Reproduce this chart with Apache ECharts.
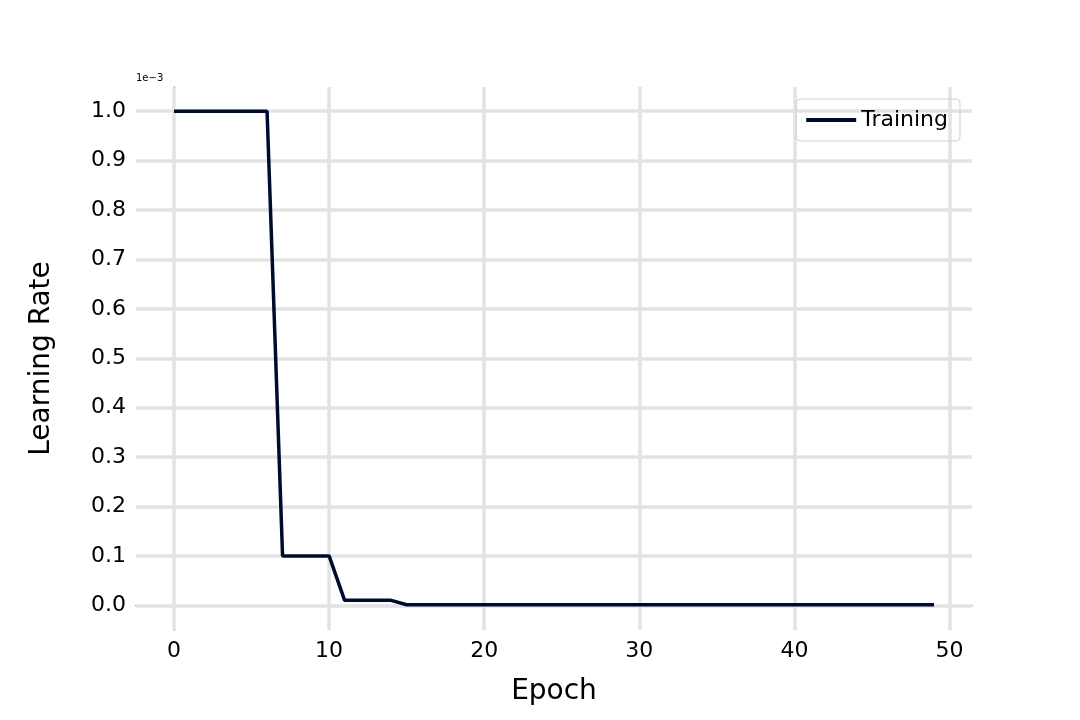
<!DOCTYPE html>
<html>
<head>
<meta charset="utf-8">
<script src="https://cdn.jsdelivr.net/npm/echarts@6/dist/echarts.min.js"></script>
<style>html,body{margin:0;padding:0;background:#fff}#c{width:1080px;height:720px}</style>
</head>
<body>
<div id="c"></div>
<script>
// 学习率曲线 (单位 1e-3)
var epochs = [];
for (var i = 0; i < 50; i++) epochs.push(i);
var lrValues = [1,1,1,1,1,1,1,0.1,0.1,0.1,0.1,0.01,0.01,0.01,0.01,
  0.001,0.001,0.001,0.001,0.001,0.001,0.001,0.001,0.001,0.001,0.001,0.001,0.001,0.001,0.001,
  0.001,0.001,0.001,0.001,0.001,0.001,0.001,0.001,0.001,0.001,0.001,0.001,0.001,0.001,0.001,
  0.001,0.001,0.001,0.001,0.001];
var xTicks = [0,10,20,30,40,50];
var yTicks = [0,0.1,0.2,0.3,0.4,0.5,0.6,0.7,0.8,0.9,1.0];

var font = 'DejaVu Sans';
var gridStyle = {color:'#e3e3e3', width:3.5, type:'solid'};
var gridLines = [];
xTicks.forEach(function(v){ gridLines.push({xAxis:v, lineStyle:gridStyle}) });
yTicks.forEach(function(v){ gridLines.push({yAxis:v, lineStyle:gridStyle}) });

var chart = echarts.init(document.getElementById('c'));
chart.setOption({
  animation:false,
  grid:{left:136, right:108, top:87, bottom:90},
  legend:{
    right:120, top:99, itemWidth:50, itemHeight:4, padding:[10,12,10,10],
    borderColor:'#d0d0d0', borderWidth:1, borderRadius:4,
    textStyle:{fontFamily:font, fontSize:22, color:'#000'},
    icon:'rect', data:['Training']
  },
  graphic:[{type:'text', left:136, top:73, style:{text:'1e\u22123', font:'10px DejaVu Sans', fill:'#000'}}],
  xAxis:{
    type:'value', min:-2.45, max:51.45,
    name:'Epoch', nameLocation:'middle', nameGap:48,
    nameTextStyle:{fontFamily:font, fontSize:28, color:'#000'},
    axisLine:{lineStyle:{color:'#000', width:1}},
    axisTick:{customValues:xTicks, length:6, lineStyle:{color:'#000'}},
    axisLabel:{customValues:xTicks, fontFamily:font, fontSize:22, color:'#000', margin:10},
    splitLine:{show:false}
  },
  yAxis:{
    type:'value', min:-0.05, max:1.049,
    name:'Learning Rate', nameLocation:'middle', nameGap:80,
    nameTextStyle:{fontFamily:font, fontSize:28, color:'#000'},
    axisLine:{show:true, lineStyle:{color:'#000', width:1}},
    axisTick:{show:true, customValues:yTicks, length:6, lineStyle:{color:'#000'}},
    axisLabel:{customValues:yTicks, fontFamily:font, fontSize:22, color:'#000', margin:10,
      formatter:function(v){return v.toFixed(1)}},
    splitLine:{show:false}
  },
  series:[{
    name:'Training', type:'line', showSymbol:false, z:5,
    data:epochs.map(function(e,i){return [e, lrValues[i]]}),
    lineStyle:{color:'#000c2e', width:3.5},
    itemStyle:{color:'#000c2e'},
    markLine:{silent:true, symbol:'none', label:{show:false}, z:1, data:gridLines}
  }]
});
</script>
</body>
</html>
